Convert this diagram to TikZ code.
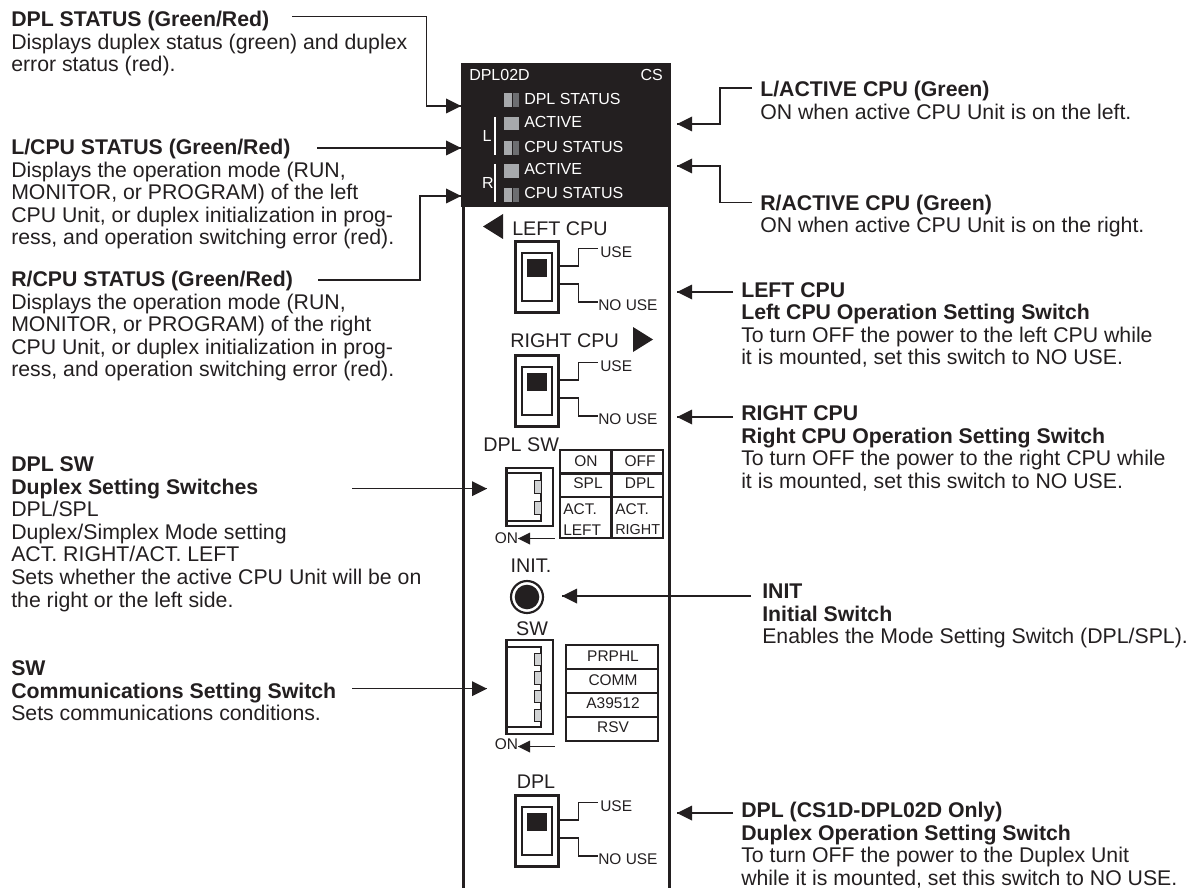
\documentclass[tikz,border=0pt]{standalone}
\usepackage{fontspec}
\setmainfont{Liberation Sans}
\usetikzlibrary{calc}
\definecolor{ink}{HTML}{231F20}
\definecolor{ledA}{HTML}{A7A9AC}
\definecolor{ledB}{HTML}{6D6E71}
\definecolor{dipfill}{HTML}{D1D3D4}
\tikzset{
  x=0.75pt,y=-0.75pt,
  desc/.style={anchor=north west,align=left,inner sep=0pt,text=ink,font=\fontsize{15.95pt}{16.9pt}\selectfont,execute at begin node={\rule{0pt}{12pt}}},
  lbl/.style={inner sep=0pt,text=ink,font=\fontsize{14.8pt}{16pt}\selectfont},
  small/.style={inner sep=0pt,text=ink,font=\fontsize{11.6pt}{13pt}\selectfont},
  wlbl/.style={inner sep=0pt,text=white,font=\fontsize{12pt}{13pt}\selectfont},
  conn/.style={draw=ink,line width=0.9pt},
  boxline/.style={draw=ink,line width=2pt},
  thick box/.style={boxline,fill=white},
  lead/.style={draw=ink,line width=0.9pt},
}
\newcommand{\tipL}[1]{\fill[ink] (#1) -- ++(15,-7.5) -- ++(0,15) -- cycle;}
\newcommand{\tipR}[1]{\fill[ink] (#1) -- ++(-15,-7.5) -- ++(0,15) -- cycle;}
\newcommand{\tipS}[1]{\fill[ink] (#1) -- ++(12,-6) -- ++(0,12) -- cycle;}
% toggle switch: #1 prefix, #2 x, #3 y top
\newcommand{\toggle}[3]{%
  \node[thick box,minimum width=32pt,minimum height=53pt,inner sep=0pt] (#1box) at ($(#2,#3)+(22,36)$) {};
  \node[thick box,minimum width=22.5pt,minimum height=36pt,inner sep=0pt] (#1in) at ($(#2,#3)+(22,36)$) {};
  \fill[ink] ($(#2,#3)+(12,17.5)$) rectangle ++(20,18.5);
  \coordinate (#1a) at ($(#2,#3)+(45,25)$);
  \coordinate (#1c) at ($(#2,#3)+(45,43)$);
  \draw[lead] (#1a) -- ++(18.5,0) |- ($(#2,#3)+(83,7.5)$);
  \draw[lead] (#1c) -- ++(18.5,0) |- ($(#2,#3)+(83,61)$);
  \node[small,anchor=west] (#1use) at ($(#2,#3)+(85,11)$) {USE};
  \node[small,anchor=west] (#1nouse) at ($(#2,#3)+(83,64)$) {NO USE};
}
\newcommand{\led}[2]{\fill[ledA] (#1,#2) rectangle ++(8,14);\fill[ledB] ($(#1,#2)+(9,0)$) rectangle ++(6,14);}
\begin{document}
\begin{tikzpicture}
\useasboundingbox (0,0) rectangle (1189,888);
% panel
\draw[ink,line width=2pt] (463.5,200) -- (463.5,888) (669.5,200) -- (669.5,888);
\fill[ink] (461,63) rectangle (671,207.5);
\node[wlbl,anchor=west] (model) at (469,75) {DPL02D};
\node[wlbl,anchor=east] (cs) at (663,75) {CS};
\led{504}{93}
\node[wlbl,anchor=west] (wdpl) at (524,99) {DPL STATUS};
\fill[ledA] (504,117) rectangle ++(15,13.5);
\node[wlbl,anchor=west] (wact1) at (524,122) {ACTIVE};
\led{504}{141}
\node[wlbl,anchor=west] (wcpu1) at (524,146.5) {CPU STATUS};
\fill[ledA] (504,164) rectangle ++(15,14);
\node[wlbl,anchor=west] (wact2) at (524,169) {ACTIVE};
\led{504}{188}
\node[wlbl,anchor=west] (wcpu2) at (524,193) {CPU STATUS};
\draw[white,line width=1pt] (495,117) -- (495,155) (495,164) -- (495,202);
\node[wlbl,anchor=center] (wl) at (487,135.5) {L};
\node[wlbl,anchor=center] (wr) at (488,182.5) {R};
% left cpu
\fill[ink] (483,226.5) -- (503,214) -- (503,239) -- cycle;
\node[lbl,anchor=west] (leftcpu) at (512,229) {LEFT CPU};
\toggle{sa}{515}{241}
% right cpu
\node[lbl,anchor=west] (rightcpu) at (510,341) {RIGHT CPU};
\fill[ink] (653,339.5) -- (633,327) -- (633,352) -- cycle;
\toggle{sb}{515}{355}
% dpl sw
\node[lbl,anchor=west] (dplsw) at (483,445) {DPL SW};
\node[thick box,minimum width=35pt,minimum height=43.5pt,inner sep=0pt] (dipa) at (529.5,497) {};
\draw[lead] (506,473) -- (541,473) -- (541,521) -- (506,521);
\filldraw[fill=dipfill,draw=ink,line width=0.7pt] (534.5,480) rectangle (541,493);
\filldraw[fill=dipfill,draw=ink,line width=0.7pt] (534.5,501) rectangle (541,514);
\draw[boxline] (560,450) rectangle (663,538) (611.5,450) -- (611.5,538) (560,473.5) -- (663,473.5) (560,497) -- (663,497);
\node[small] (on1) at (586,461) {ON};
\node[small] (off) at (640,461) {OFF};
\node[small] (spl) at (588,483.5) {SPL};
\node[small] (dpl1) at (640,483.5) {DPL};
\node[small,anchor=west] (actl) at (563,509.5) {ACT.};
\node[small,anchor=west] (left) at (563,530) {LEFT};
\node[small,anchor=west] (actr) at (615,509.5) {ACT.};
\node[small,anchor=west,font=\fontsize{10.8pt}{13pt}\selectfont] (right) at (615,530) {RIGHT};
\node[small,anchor=west] (dipaon) at (494.5,538) {ON};
\coordinate (dipaarrow) at (518,538.5);
\coordinate (dipaend) at (555,538.5);
\draw[ink,line width=1.3pt] (dipaarrow) -- (dipaend);
\tipS{dipaarrow}
% init
\node[lbl,anchor=center] (init) at (531,566) {INIT.};
\node[circle,draw=ink,line width=1.6pt,minimum size=24pt,inner sep=0pt,fill=white] (initc) at (527,597) {};
\fill[ink] (initc.center) circle (12.3);
% sw
\node[lbl,anchor=center] (sw) at (532,629) {SW};
\node[thick box,minimum width=35pt,minimum height=70.5pt,inner sep=0pt] (dipb) at (529.5,687) {};
\draw[lead] (506,647) -- (541,647) -- (541,727) -- (506,727);
\foreach \y in {653,671.5,690,709}{\filldraw[fill=dipfill,draw=ink,line width=0.7pt] (534.5,\y) rectangle ++(6.5,12.5);}
\draw[boxline] (566,645) rectangle (658,741) (566,669) -- (658,669) (566,693) -- (658,693) (566,717) -- (658,717);
\node[small] (prphl) at (613,656.5) {PRPHL};
\node[small] (comm) at (613,680) {COMM};
\node[small] (a39) at (613,703.5) {A39512};
\node[small] (rsv) at (613,727.5) {RSV};
\node[small,anchor=west] (dipbon) at (494.5,744) {ON};
\coordinate (dipbarrow) at (518,746.5);
\coordinate (dipbend) at (555,746.5);
\draw[ink,line width=1.3pt] (dipbarrow) -- (dipbend);
\tipS{dipbarrow}
% dpl
\node[lbl,anchor=center] (dpltop) at (536,782) {DPL};
\toggle{sc}{515}{795}

% left descriptions (y = first baseline - 16)
\node[desc] (d1) at (11,11) {\textbf{DPL STATUS (Green/Red)}\\Displays duplex status (green) and duplex\\error status (red).};
\node[desc] (d2) at (11,139) {\textbf{L/CPU STATUS (Green/Red)}\\Displays the operation mode (RUN,\\MONITOR, or PROGRAM) of the left\\CPU Unit, or duplex initialization in prog-\\ress, and operation switching error (red).};
\node[desc] (d3) at (11,271) {\textbf{R/CPU STATUS (Green/Red)}\\Displays the operation mode (RUN,\\MONITOR, or PROGRAM) of the right\\CPU Unit, or duplex initialization in prog-\\ress, and operation switching error (red).};
\node[desc] (d4) at (11,456.7) {\textbf{DPL SW}\\\textbf{Duplex Setting Switches}\\DPL/SPL\\Duplex/Simplex Mode setting\\ACT. RIGHT/ACT. LEFT\\Sets whether the active CPU Unit will be on\\the right or the left side.};
\node[desc] (d5) at (11,660.7) {\textbf{SW}\\\textbf{Communications Setting Switch}\\Sets communications conditions.};
% right descriptions
\node[desc] (d6) at (760,81) {\textbf{L/ACTIVE CPU (Green)}\\ON when active CPU Unit is on the left.};
\node[desc] (d7) at (760,194.7) {\textbf{R/ACTIVE CPU (Green)}\\ON when active CPU Unit is on the right.};
\node[desc] (d8) at (741,282) {\textbf{LEFT CPU}\\\textbf{Left CPU Operation Setting Switch}\\To turn OFF the power to the left CPU while\\it is mounted, set this switch to NO USE.};
\node[desc] (d9) at (741,405.7) {\textbf{RIGHT CPU}\\\textbf{Right CPU Operation Setting Switch}\\To turn OFF the power to the right CPU while\\it is mounted, set this switch to NO USE.};
\node[desc] (d10) at (762,584) {\textbf{INIT}\\\textbf{Initial Switch}\\Enables the Mode Setting Switch (DPL/SPL).};
\node[desc] (d11) at (741,802) {\textbf{DPL (CS1D-DPL02D Only)}\\\textbf{Duplex Operation Setting Switch}\\To turn OFF the power to the Duplex Unit\\while it is mounted, set this switch to NO USE.};

% connectors, left side
\coordinate (c1a) at (292,16.5); \coordinate (c1t) at (461,106);
\draw[conn] (c1a) -- (426.5,16.5) -- (426.5,106) -- (c1t);
\tipR{c1t}
\coordinate (c2a) at (317,148); \coordinate (c2t) at (461,148);
\draw[conn] (c2a) -- (c2t);
\tipR{c2t}
\coordinate (c3a) at (318,280); \coordinate (c3t) at (461,196);
\draw[conn] (c3a) -- (420,280) -- (420,196) -- (c3t);
\tipR{c3t}
\coordinate (c4a) at (352,488.7); \coordinate (c4t) at (487,488.7);
\draw[conn] (c4a) -- (c4t);
\tipR{c4t}
\coordinate (c5a) at (352,688.7); \coordinate (c5t) at (487,688.7);
\draw[conn] (c5a) -- (c5t);
\tipR{c5t}
% connectors, right side
\coordinate (r1a) at (752,88); \coordinate (r1t) at (677,124);
\draw[conn] (r1a) -- (720,88) -- (720,124) -- (r1t);
\tipL{r1t}
\coordinate (r2a) at (752,202.7); \coordinate (r2t) at (677,166);
\draw[conn] (r2a) -- (720,202.7) -- (720,166) -- (r2t);
\tipL{r2t}
\coordinate (r3a) at (733,292); \coordinate (r3t) at (677,292);
\draw[conn] (r3a) -- (r3t);
\tipL{r3t}
\coordinate (r4a) at (733,417); \coordinate (r4t) at (677,417);
\draw[conn] (r4a) -- (r4t);
\tipL{r4t}
\coordinate (r5a) at (751,596); \coordinate (r5t) at (562,596);
\draw[conn] (r5a) -- (r5t);
\tipL{r5t}
\coordinate (r6a) at (733,813); \coordinate (r6t) at (677,813);
\draw[conn] (r6a) -- (r6t);
\tipL{r6t}
\end{tikzpicture}
\end{document}
